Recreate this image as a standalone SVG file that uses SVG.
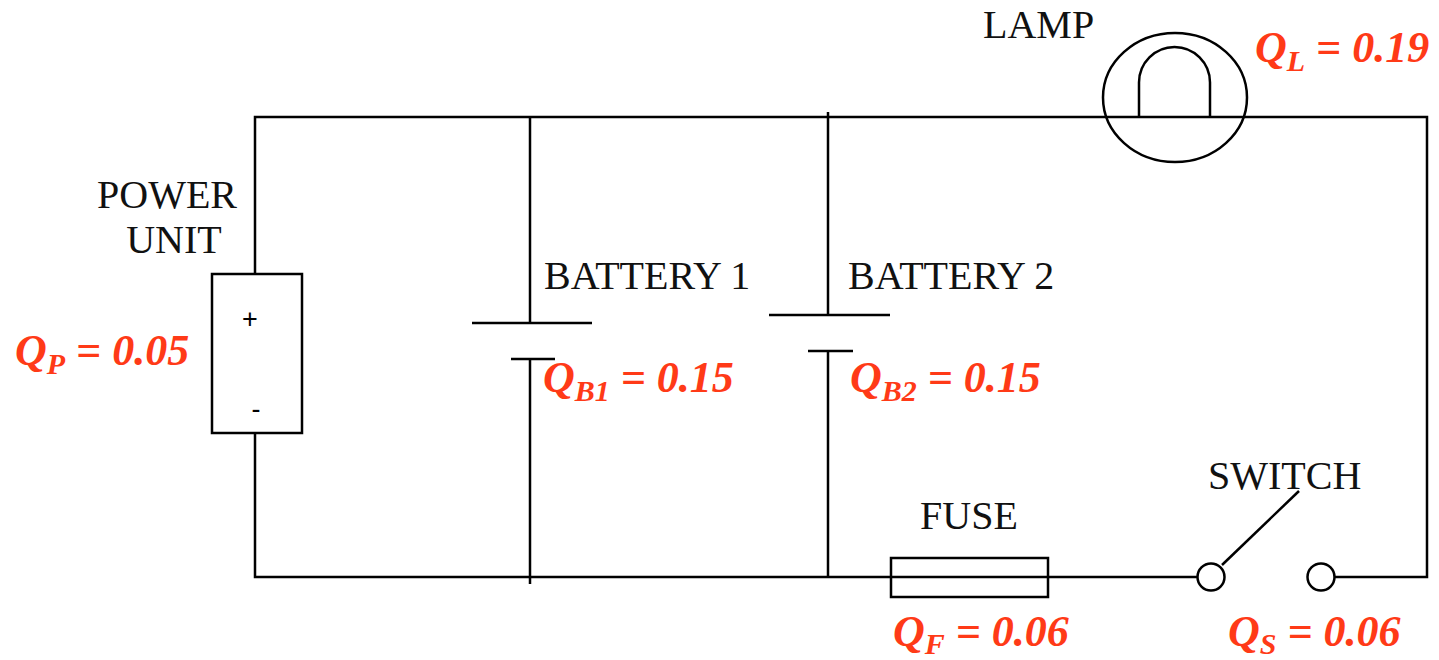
<svg xmlns="http://www.w3.org/2000/svg" width="1439" height="660" viewBox="0 0 1439 660">
<style>
.w{stroke:#000;stroke-width:2.5;fill:none}
.lbl{font-family:"Liberation Serif","Times New Roman",serif;font-size:40px;fill:#111}
.q{font-family:"Liberation Serif","Times New Roman",serif;font-size:44px;font-weight:bold;font-style:italic;fill:#ff3a17}
.s{font-size:30px}
.pm{font-family:"Liberation Sans",Arial,sans-serif;font-size:27px;fill:#000}
</style>
<rect width="1439" height="660" fill="#fff"/>
<g id="connectors">
<path class="w" d="M255,274 V117 H1427 V577 H1335"/>
<path class="w" d="M255,433 V577 H1198"/>
<path class="w" d="M530,117 V323"/>
<path class="w" d="M530,359 V584"/>
<path class="w" d="M828,112 V315"/>
<path class="w" d="M828,351 V577"/>
</g>
<g id="power-unit">
<rect class="w" x="212" y="274" width="90" height="159" fill="#fff" stroke-width="3"/>
<text class="pm" x="250" y="328" text-anchor="middle">+</text>
<text class="pm" x="256" y="418" text-anchor="middle">-</text>
<text class="lbl" x="167" y="208" text-anchor="middle">POWER</text>
<text class="lbl" x="174" y="253" text-anchor="middle">UNIT</text>
<text class="q" x="15" y="365">Q<tspan class="s" dy="9">P</tspan><tspan dy="-9"> = 0.05</tspan></text>
</g>
<g id="battery-1">
<line class="w" x1="472" y1="323" x2="592" y2="323"/>
<line class="w" x1="511" y1="359" x2="555" y2="359"/>
<text class="lbl" x="544" y="289">BATTERY 1</text>
<text class="q" x="543" y="392">Q<tspan class="s" dy="9">B1</tspan><tspan dy="-9"> = 0.15</tspan></text>
</g>
<g id="battery-2">
<line class="w" x1="769" y1="315" x2="890" y2="315"/>
<line class="w" x1="808" y1="351" x2="853" y2="351"/>
<text class="lbl" x="848" y="289">BATTERY 2</text>
<text class="q" x="850" y="392">Q<tspan class="s" dy="9">B2</tspan><tspan dy="-9"> = 0.15</tspan></text>
</g>
<g id="lamp">
<ellipse class="w" cx="1175" cy="97.5" rx="72" ry="64.5"/>
<path class="w" d="M1139,117 V82.5 A35.5,35.5 0 0 1 1210,82.5 V117"/>
<text class="lbl" x="983" y="38">LAMP</text>
<text class="q" x="1255" y="62">Q<tspan class="s" dy="9">L</tspan><tspan dy="-9"> = 0.19</tspan></text>
</g>
<g id="fuse">
<rect class="w" x="891" y="558" width="157" height="39"/>
<text class="lbl" x="920" y="529">FUSE</text>
<text class="q" x="893" y="646">Q<tspan class="s" dy="8">F</tspan><tspan dy="-8"> = 0.06</tspan></text>
</g>
<g id="switch">
<circle class="w" cx="1211" cy="577" r="13.5" fill="#fff"/>
<circle class="w" cx="1321" cy="577" r="13.5" fill="#fff"/>
<line class="w" x1="1222" y1="565" x2="1299" y2="491"/>
<text class="lbl" x="1208" y="489">SWITCH</text>
<text class="q" x="1228" y="646">Q<tspan class="s" dy="8">S</tspan><tspan dy="-8"> = 0.06</tspan></text>
</g>
</svg>
